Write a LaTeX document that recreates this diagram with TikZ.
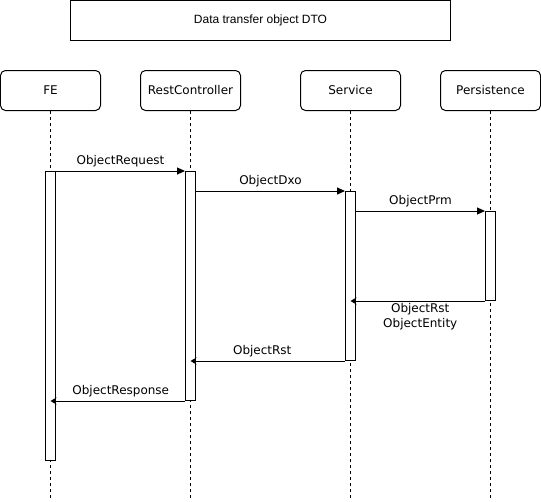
\documentclass[tikz,border=0pt]{standalone}
\usepackage{fontspec}
\usepackage{tikz}
\usetikzlibrary{arrows.meta,positioning,calc}
\newfontfamily\dvsans{DejaVu Sans}
\newfontfamily\lbsans{Liberation Sans}
\tikzset{
  sqtitle/.style={draw, rectangle, line width=1pt, minimum width=380pt, minimum height=40pt, font=\fontsize{12}{14}\selectfont\lbsans},
  sqhead/.style={draw, rectangle, rounded corners=5pt, line width=1pt, minimum width=100pt, minimum height=40pt, font=\fontsize{12}{14}\selectfont\dvsans},
  sqact/.style={draw, fill=white, rectangle, line width=1pt, minimum width=10pt, inner sep=0pt},
  sqlife/.style={line width=1pt, dash pattern=on 3pt off 3pt},
  sqcall/.style={-{Triangle[length=8pt, width=7pt]}, line width=1pt},
  sqret/.style={-{Stealth[length=6pt, width=7pt, inset=2pt]}, line width=1pt},
  sqlabel/.style={font=\fontsize{12}{15}\selectfont\dvsans, inner sep=0pt, midway},
}

\begin{document}
\begin{tikzpicture}[x=1pt, y=-1pt]
  \useasboundingbox (-0.5,-0.5) rectangle (540.5,500.5);

  \node[sqtitle] (title) at (260,20) {Data transfer object DTO};

  \node[sqhead] (fe) at (50,90) {FE};
  \node[sqhead] (rest) at (190,90) {RestController};
  \node[sqhead] (svc) at (350,90) {Service};
  \node[sqhead] (pers) at (490,90) {Persistence};

  % lifelines
  \coordinate (bot) at (0,500);
  \foreach \n in {fe,rest,svc,pers}
    \draw[sqlife] (\n) -- (\n |- bot);

  % activations
  \node[sqact, minimum height=289pt] (feact) at (50,315.5) {};
  \node[sqact, minimum height=229pt] (restact) at (190,285.5) {};
  \node[sqact, minimum height=169pt] (svcact) at (350,275.5) {};
  \node[sqact, minimum height=89pt] (persact) at (490,255.5) {};

  % calls
  \draw[sqcall] (feact.north east) -- node[sqlabel, above=4pt] {ObjectRequest} (restact.north west);
  \draw[sqcall] (svcact.north west -| restact.east) -- node[sqlabel, above=4pt] {ObjectDxo} (svcact.north west);
  \draw[sqcall] (persact.north west -| svcact.east) -- node[sqlabel, above=4pt] {ObjectPrm} (persact.north west);

  % returns
  \draw[sqret] (persact.south west) -- node[sqlabel, below=2pt, xshift=2.5pt, align=center] {ObjectRst\\ObjectEntity} (persact.south west -| svcact.center);
  \draw[sqret] (svcact.south west) -- node[sqlabel, above=4pt, xshift=-5.5pt] {ObjectRst} (svcact.south west -| restact.center);
  \draw[sqret] (restact.south west) -- node[sqlabel, above=4pt, xshift=3pt] {ObjectResponse} (restact.south west -| feact.center);
\end{tikzpicture}
\end{document}
